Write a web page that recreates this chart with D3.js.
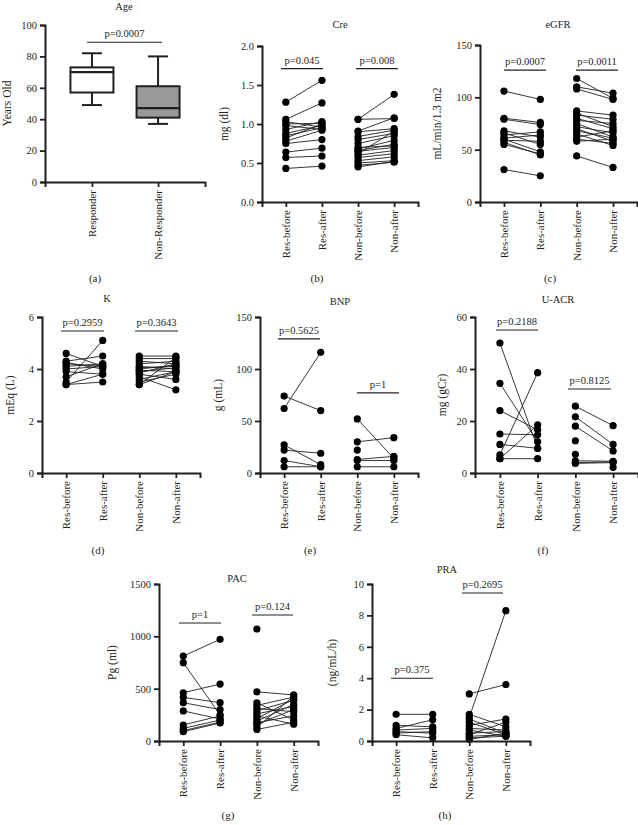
<!DOCTYPE html>
<html><head><meta charset="utf-8">
<script src="https://cdn.jsdelivr.net/npm/d3@7/dist/d3.min.js"></script>
<style>
html,body{margin:0;padding:0;background:#fff;}
svg text{font-family:"Liberation Serif","Times New Roman",serif;fill:#231f20;}
</style></head>
<body><svg id="c" width="638" height="825"></svg>
<script>
// ---------- DATA ----------
const ageCategories = ["Responder", "Non-Responder"];
const ageMin = [49, 37];
const ageQ1 = [57, 41];
const ageMedian = [70, 47];
const ageQ3 = [73, 61];
const ageMax = [82, 80];

const pairCategories = ["Res-before", "Res-after", "Non-before", "Non-after"];

const creResBefore = [1.28, 1.06, 1.03, 1.00, 0.98, 0.93, 0.88, 0.85, 0.82, 0.78, 0.75, 0.64, 0.57, 0.43];
const creResAfter  = [1.56, 1.27, 0.96, 1.01, 0.93, 1.03, 0.98, 0.95, 1.00, 0.92, 0.80, 0.69, 0.59, 0.46];
const creNonBefore = [1.06, 1.06, 0.91, 0.90, 0.84, 0.80, 0.75, 0.70, 0.68, 0.66, 0.65, 0.62, 0.60, 0.57, 0.53, 0.50, 0.47, 0.45];
const creNonAfter  = [1.38, 1.07, 1.08, 0.94, 0.92, 0.88, 0.85, 0.72, 0.79, 0.74, 0.70, 0.91, 0.66, 0.62, 0.58, 0.53, 0.51, 0.52];

const egfrResBefore = [106, 80, 79, 68, 66, 64, 61, 60, 59, 57, 55, 31];
const egfrResAfter  = [98, 76, 74, 62, 55, 67, 64, 48, 58, 45, 46, 25];
const egfrNonBefore = [118, 110, 108, 87, 85, 83, 80, 78, 75, 72, 70, 68, 65, 62, 60, 58, 44];
const egfrNonAfter  = [99, 104, 98, 83, 72, 79, 70, 75, 62, 66, 58, 61, 54, 68, 56, 60, 33];

const kResBefore = [4.6, 4.3, 4.25, 4.2, 4.1, 4.0, 3.9, 3.7, 3.5, 3.4, 3.4];
const kResAfter  = [4.1, 4.5, 4.0, 4.1, 4.2, 4.1, 3.8, 4.2, 5.1, 3.5, 3.8];
const kNonBefore = [4.5, 4.4, 4.3, 4.2, 4.1, 4.05, 4.0, 3.95, 3.9, 3.85, 3.8, 3.7, 3.6, 3.5, 3.4, 3.4];
const kNonAfter  = [4.5, 4.4, 4.2, 4.3, 4.0, 4.1, 4.15, 3.9, 4.05, 4.2, 3.6, 3.2, 3.9, 3.8, 3.9, 4.45];

const bnpResBefore = [62, 74, 27, 22, 12, 6];
const bnpResAfter  = [116, 60, 8, 19, 6, 6];
const bnpNonBefore = [52, 30, 22, 13, 12, 6];
const bnpNonAfter  = [14, 34, null, 16, 12, 6];

const uacrResBefore = [50, 34.5, 24, 15, 11, 7, 5.5, 5.5];
const uacrResAfter  = [9.5, 12, 16.6, 14.7, 9.5, 38.6, 18.5, 5.5];
const uacrNonBefore = [25.7, 21.6, 18, 12.4, 7.2, 4.7, 4.0, 3.7, null];
const uacrNonAfter  = [18.2, 11, 8.5, null, null, 4.5, 4.3, 4.0, 2.2];

const pacResBefore = [812, 748, 461, 417, 366, 287, 153, 121, 100, 89];
const pacResAfter  = [971, 250, 544, 366, 300, 210, 240, 200, 180, 172];
const pacNonBefore = [1070, 470, 365, 340, 310, 290, 260, 240, 215, 190, 175, 160, 130, 110];
const pacNonAfter  = [null, 440, 200, 420, 280, 390, 330, 160, 400, 350, 240, 300, 430, 180];

const praResBefore = [1.7, 1.0, 0.8, 0.7, 0.6, 0.5, 0.4];
const praResAfter  = [1.7, 0.9, 1.35, 0.8, 0.5, 0.6, 0.2];
const praNonBefore = [3.0, 1.5, 1.7, 1.4, 1.2, 1.0, 0.8, 0.7, 0.5, 0.4, 0.3, 0.2, 0.1];
const praNonAfter  = [3.6, 8.3, 0.9, 0.5, 0.4, 1.4, 0.7, 0.3, 0.6, 1.2, 0.4, 0.3, 0.5];

// ---------- LAYOUT ----------
const svg = d3.select("#c");
const INK = "#231f20";
const FS = 10.5;

function yAxisDraw(g, y, ticks, fmt, x0) {
  const ax = g.append("g").attr("transform", `translate(${x0},0)`)
    .call(d3.axisLeft(y).tickValues(ticks).tickFormat(fmt).tickSizeOuter(0).tickSize(5).tickPadding(3));
  ax.select(".domain").attr("stroke", INK).attr("stroke-width", 2);
  ax.selectAll(".tick line").attr("stroke", INK).attr("stroke-width", 1.8);
  ax.selectAll("text").attr("font-size", FS).attr("fill", INK);
}
function xAxisDraw(g, x, y0) {
  const ax = g.append("g").attr("transform", `translate(0,${y0})`)
    .call(d3.axisBottom(x).tickSizeOuter(0).tickSize(5));
  ax.select(".domain").attr("stroke", INK).attr("stroke-width", 2);
  ax.selectAll(".tick line").attr("stroke", INK).attr("stroke-width", 1.8);
  ax.selectAll("text").attr("font-size", 11).attr("fill", INK)
    .attr("transform", "rotate(-90)").attr("text-anchor", "end")
    .attr("x", -8).attr("y", 0).attr("dy", "0.33em");
}
function labels(g, c) {
  g.append("text").attr("x", c.titleX).attr("y", c.titleY).attr("text-anchor", "middle")
    .attr("font-size", FS).text(c.title);
  g.append("text").attr("transform", `translate(${c.ylabX},${(c.top + c.bottom) / 2}) rotate(-90)`)
    .attr("text-anchor", "middle").attr("font-size", 11.5).text(c.ylabel);
  g.append("text").attr("x", c.tagX).attr("y", c.tagY).attr("text-anchor", "middle")
    .attr("font-size", 11).text(c.tag);
}
function pval(g, y, p) {
  g.append("line").attr("x1", p.x1).attr("x2", p.x2).attr("y1", y(p.at)).attr("y2", y(p.at))
    .attr("stroke", INK).attr("stroke-width", 1.1);
  g.append("text").attr("x", (p.x1 + p.x2) / 2).attr("y", y(p.at) - 5).attr("text-anchor", "middle")
    .attr("font-size", FS).text(p.text);
}

function pairedPanel(c) {
  const g = svg.append("g");
  const y = d3.scaleLinear().domain([0, c.max]).range([c.bottom, c.top]);
  const x = d3.scalePoint().domain(pairCategories).range([c.x0, c.x1]).padding(0.66);
  // pairs
  const groups = [[c.resB, c.resA, 0], [c.nonB, c.nonA, 2]];
  groups.forEach(([b, a, k]) => {
    const xb = x(pairCategories[k]), xa = x(pairCategories[k + 1]);
    b.forEach((v, i) => {
      if (v != null && a[i] != null)
        g.append("line").attr("x1", xb).attr("x2", xa).attr("y1", y(v)).attr("y2", y(a[i]))
          .attr("stroke", INK).attr("stroke-width", 0.9);
    });
    g.selectAll(null).data(b.filter(v => v != null)).enter().append("circle")
      .attr("cx", xb).attr("cy", d => y(d)).attr("r", 3.6).attr("fill", "#000");
    g.selectAll(null).data(a.filter(v => v != null)).enter().append("circle")
      .attr("cx", xa).attr("cy", d => y(d)).attr("r", 3.6).attr("fill", "#000");
  });
  yAxisDraw(g, y, c.ticks, c.fmt, c.x0);
  xAxisDraw(g, x, c.bottom);
  c.p.forEach(p => pval(g, y, p));
  labels(g, c);
}

// ---------- PANEL (a) ----------
(function () {
  const c = { x0: 45, x1: 205, top: 25, bottom: 182, title: "Age", titleX: 124, titleY: 10,
    ylabel: "Years Old", ylabX: 11, tag: "(a)", tagX: 95, tagY: 282 };
  const g = svg.append("g");
  const y = d3.scaleLinear().domain([0, 100]).range([c.bottom, c.top]);
  const x = d3.scalePoint().domain(ageCategories).range([c.x0, c.x1]).padding(0.71);
  const bw = 43, cw = 20;
  const fills = ["#fff", "#999"];
  ageCategories.forEach((cat, i) => {
    const cx = x(cat);
    g.append("line").attr("x1", cx).attr("x2", cx).attr("y1", y(ageMax[i])).attr("y2", y(ageQ3[i]))
      .attr("stroke", INK).attr("stroke-width", 2);
    g.append("line").attr("x1", cx).attr("x2", cx).attr("y1", y(ageQ1[i])).attr("y2", y(ageMin[i]))
      .attr("stroke", INK).attr("stroke-width", 2);
    [ageMax[i], ageMin[i]].forEach(v => g.append("line").attr("x1", cx - cw / 2).attr("x2", cx + cw / 2)
      .attr("y1", y(v)).attr("y2", y(v)).attr("stroke", INK).attr("stroke-width", 2));
    g.append("rect").attr("x", cx - bw / 2).attr("y", y(ageQ3[i])).attr("width", bw)
      .attr("height", y(ageQ1[i]) - y(ageQ3[i])).attr("fill", fills[i]).attr("stroke", INK).attr("stroke-width", 2);
    g.append("line").attr("x1", cx - bw / 2).attr("x2", cx + bw / 2).attr("y1", y(ageMedian[i])).attr("y2", y(ageMedian[i]))
      .attr("stroke", INK).attr("stroke-width", 2.2);
  });
  yAxisDraw(g, y, [0, 20, 40, 60, 80, 100], d3.format("d"), c.x0);
  xAxisDraw(g, x, c.bottom);
  pval(g, y, { x1: 87, x2: 162, at: 89, text: "p=0.0007" });
  labels(g, c);
})();

// ---------- PAIRED PANELS ----------
pairedPanel({ x0: 262, x1: 418, top: 46, bottom: 202, max: 2, ticks: [0, 0.5, 1, 1.5, 2], fmt: d3.format(".1f"),
  resB: creResBefore, resA: creResAfter, nonB: creNonBefore, nonA: creNonAfter,
  title: "Cre", titleX: 340, titleY: 28, ylabel: "mg (dl)", ylabX: 228, tag: "(b)", tagX: 317, tagY: 282,
  p: [{ x1: 281, x2: 323, at: 1.71, text: "p=0.045" }, { x1: 356, x2: 398, at: 1.71, text: "p=0.008" }] });

pairedPanel({ x0: 480, x1: 637, top: 45, bottom: 202, max: 150, ticks: [0, 50, 100, 150], fmt: d3.format("d"),
  resB: egfrResBefore, resA: egfrResAfter, nonB: egfrNonBefore, nonA: egfrNonAfter,
  title: "eGFR", titleX: 558, titleY: 28, ylabel: "mL/min/1.3 m2", ylabX: 441, tag: "(c)", tagX: 550, tagY: 282,
  p: [{ x1: 504, x2: 546, at: 126, text: "p=0.0007" }, { x1: 576, x2: 618, at: 126, text: "p=0.0011" }] });

pairedPanel({ x0: 42, x1: 200, top: 317, bottom: 473, max: 6, ticks: [0, 2, 4, 6], fmt: d3.format("d"),
  resB: kResBefore, resA: kResAfter, nonB: kNonBefore, nonA: kNonAfter,
  title: "K", titleX: 107, titleY: 302, ylabel: "mEq (L)", ylabX: 14, tag: "(d)", tagX: 98, tagY: 554,
  p: [{ x1: 61, x2: 104, at: 5.46, text: "p=0.2959" }, { x1: 135, x2: 178, at: 5.46, text: "p=0.3643" }] });

pairedPanel({ x0: 260, x1: 418, top: 317, bottom: 473, max: 150, ticks: [0, 50, 100, 150], fmt: d3.format("d"),
  resB: bnpResBefore, resA: bnpResAfter, nonB: bnpNonBefore, nonA: bnpNonAfter,
  title: "BNP", titleX: 340, titleY: 305, ylabel: "g (mL)", ylabX: 222, tag: "(e)", tagX: 310, tagY: 554,
  p: [{ x1: 278, x2: 320, at: 129, text: "p=0.5625" }, { x1: 357, x2: 399, at: 77, text: "p=1" }] });

pairedPanel({ x0: 475, x1: 638, top: 317, bottom: 473, max: 60, ticks: [0, 20, 40, 60], fmt: d3.format("d"),
  resB: uacrResBefore, resA: uacrResAfter, nonB: uacrNonBefore, nonA: uacrNonAfter,
  title: "U-ACR", titleX: 558, titleY: 303, ylabel: "mg (gCr)", ylabX: 446, tag: "(f)", tagX: 543, tagY: 554,
  p: [{ x1: 496, x2: 538, at: 55, text: "p=0.2188" }, { x1: 568, x2: 611, at: 32.3, text: "p=0.8125" }] });

pairedPanel({ x0: 159, x1: 318, top: 584, bottom: 741, max: 1500, ticks: [0, 500, 1000, 1500], fmt: d3.format("d"),
  resB: pacResBefore, resA: pacResAfter, nonB: pacNonBefore, nonA: pacNonAfter,
  title: "PAC", titleX: 237, titleY: 582, ylabel: "Pg (ml)", ylabX: 116, tag: "(g)", tagX: 228, tagY: 819,
  p: [{ x1: 179, x2: 221, at: 1127, text: "p=1" }, { x1: 252, x2: 293, at: 1204, text: "p=0.124" }] });

pairedPanel({ x0: 372, x1: 530, top: 584, bottom: 741, max: 10, ticks: [0, 2, 4, 6, 8, 10], fmt: d3.format("d"),
  resB: praResBefore, resA: praResAfter, nonB: praNonBefore, nonA: praNonAfter,
  title: "PRA", titleX: 447, titleY: 573, ylabel: "(ng/mL/h)", ylabX: 336, tag: "(h)", tagX: 445, tagY: 819,
  p: [{ x1: 391, x2: 433, at: 4.0, text: "p=0.375" }, { x1: 462, x2: 503, at: 9.43, text: "p=0.2695" }] });
</script></body></html>
